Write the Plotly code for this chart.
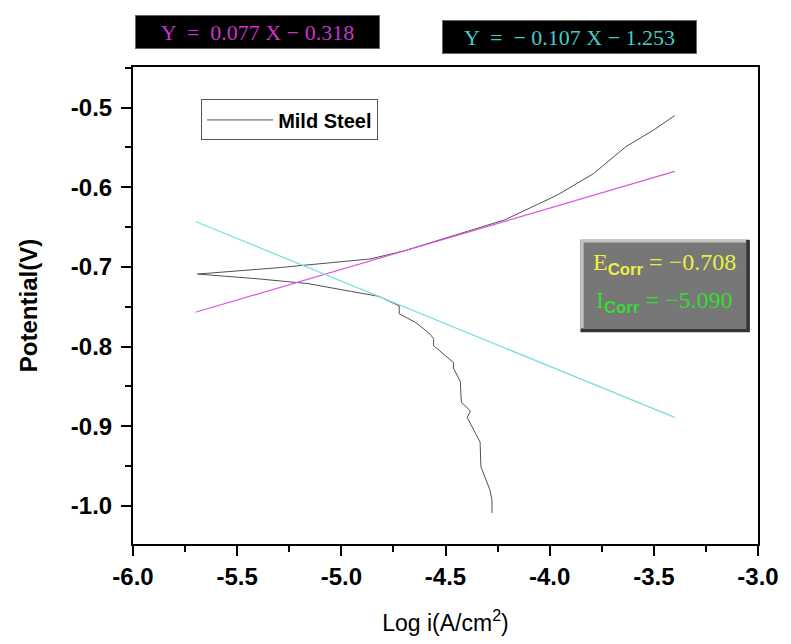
import plotly.graph_objects as go

# Polarization curve (Mild Steel), ordered along potential sweep
curve_x = [-4.277, -4.277, -4.287, -4.330, -4.334, -4.396, -4.380, -4.424, -4.429,
           -4.462, -4.462, -4.557, -4.557, -4.580, -4.642, -4.722, -4.722,
           -4.820, -4.950, -5.160, -5.400, -5.690,
           -5.300, -4.860, -4.700, -4.550, -4.340, -4.216, -3.965, -3.790,
           -3.634, -3.500, -3.400]
curve_y = [-1.009, -0.993, -0.980, -0.951, -0.920, -0.889, -0.881, -0.870, -0.844,
           -0.827, -0.820, -0.799, -0.790, -0.783, -0.770, -0.759, -0.749,
           -0.737, -0.731, -0.721, -0.715, -0.709,
           -0.701, -0.690, -0.680, -0.668, -0.651, -0.641, -0.610, -0.583,
           -0.549, -0.528, -0.510]

# Tafel fit lines (end points)
anodic_x = [-5.7, -3.4]
anodic_y = [-0.757, -0.580]
cathodic_x = [-5.7, -3.4]
cathodic_y = [-0.643, -0.889]

x_ticks = [-6.0, -5.5, -5.0, -4.5, -4.0, -3.5, -3.0]
x_ticktext = ["-6.0", "-5.5", "-5.0", "-4.5", "-4.0", "-3.5", "-3.0"]
y_ticks = [-1.0, -0.9, -0.8, -0.7, -0.6, -0.5]
y_ticktext = ["-1.0", "-0.9", "-0.8", "-0.7", "-0.6", "-0.5"]

anodic_eq = "Y  =  0.077 X \u2212 0.318"
cathodic_eq = "Y  =  \u2212 0.107 X \u2212 1.253"
ecorr_val = "\u22120.708"
icorr_val = "\u22125.090"

SERIF = "Times New Roman, Liberation Serif, serif"

fig = go.Figure()
fig.add_trace(go.Scatter(x=curve_x, y=curve_y, mode="lines", name="Mild Steel",
                         line=dict(color="#505050", width=1)))
fig.add_trace(go.Scatter(x=anodic_x, y=anodic_y, mode="lines", showlegend=False,
                         line=dict(color="#DD55DD", width=1.2)))
fig.add_trace(go.Scatter(x=cathodic_x, y=cathodic_y, mode="lines", showlegend=False,
                         line=dict(color="#77DDDD", width=1.2)))

tickfont = dict(family="Arial", size=24, color="black", weight="bold")
fig.update_layout(
    width=791, height=644,
    margin=dict(l=133, r=21, t=67, b=86),
    paper_bgcolor="white", plot_bgcolor="white",
    showlegend=True,
    legend=dict(x=0.109, y=0.932, xanchor="left", yanchor="top",
                bordercolor="#555", borderwidth=1, bgcolor="white",
                font=dict(family="Arial", size=20, color="black", weight="bold"),
                itemwidth=66, tracegroupgap=0),
    xaxis=dict(range=[-6, -3], tickvals=x_ticks, ticktext=x_ticktext,
               ticks="outside", ticklen=10, tickwidth=1.5, tickcolor="black",
               showline=True, linecolor="black", linewidth=2, mirror=True,
               showgrid=False, zeroline=False, tickfont=tickfont, ticklabeloverflow="allow",
               minor=dict(dtick=0.25, ticks="outside", ticklen=6, tickcolor="black"),
               title=dict(text="Log i(A/cm<sup>2</sup>)", standoff=26,
                          font=dict(family="Arial", size=23, color="black"))),
    yaxis=dict(range=[-1.048, -0.449], tickvals=y_ticks, ticktext=y_ticktext,
               ticks="outside", ticklen=10, tickwidth=1.5, tickcolor="black",
               showline=True, linecolor="black", linewidth=2, mirror=True,
               showgrid=False, zeroline=False, tickfont=tickfont, ticklabelstandoff=4,
               ticklabeloverflow="allow",
               minor=dict(dtick=0.05, ticks="outside", ticklen=6, tickcolor="black"),
               title=dict(text="Potential(V)", standoff=26,
                          font=dict(family="Arial", size=24, color="black", weight="bold"))),
)

# equation boxes above the plot
fig.add_annotation(xref="paper", yref="paper", x=0.1995, y=1.074, xanchor="center", yanchor="middle",
                   text=anodic_eq, showarrow=False, bgcolor="black", bordercolor="#666",
                   borderwidth=1, borderpad=0, width=243, height=32,
                   font=dict(family=SERIF, size=22, color="#CC33CC"))
fig.add_annotation(xref="paper", yref="paper", x=0.698, y=1.062, xanchor="center", yanchor="middle",
                   text=cathodic_eq, showarrow=False, bgcolor="black", bordercolor="#666",
                   borderwidth=1, borderpad=0, width=253, height=32,
                   font=dict(family=SERIF, size=22, color="#44CCCC"))

# Ecorr / Icorr panel with bevel
fig.add_shape(type="rect", xref="paper", yref="paper", x0=0.716, x1=0.987, y0=0.444, y1=0.638,
              fillcolor="#333333", line=dict(width=0))
fig.add_shape(type="rect", xref="paper", yref="paper", x0=0.716, x1=0.981, y0=0.452, y1=0.638,
              fillcolor="#c4c4c4", line=dict(width=0))
fig.add_shape(type="rect", xref="paper", yref="paper", x0=0.721, x1=0.981, y0=0.452, y1=0.632,
              fillcolor="#777777", line=dict(width=0))
fig.add_annotation(xref="paper", yref="paper", x=0.850, y=0.586, xanchor="center", yanchor="middle",
                   text="E<sub><span style='font-family:Arial;font-weight:bold'>Corr</span></sub> = " + ecorr_val,
                   showarrow=False,
                   font=dict(family=SERIF, size=24, color="#EEEE44"))
fig.add_annotation(xref="paper", yref="paper", x=0.850, y=0.508, xanchor="center", yanchor="middle",
                   text="I<sub><span style='font-family:Arial;font-weight:bold'>Corr</span></sub> = " + icorr_val,
                   showarrow=False,
                   font=dict(family=SERIF, size=24, color="#33DD33"))

fig.write_html("out.html", config={"displayModeBar": False},
               post_script=("document.documentElement.style.margin='0';"
                            "document.documentElement.style.overflow='hidden';"
                            "document.body.style.margin='0';document.body.style.padding='0';"
                            "document.body.style.overflow='hidden';"))
